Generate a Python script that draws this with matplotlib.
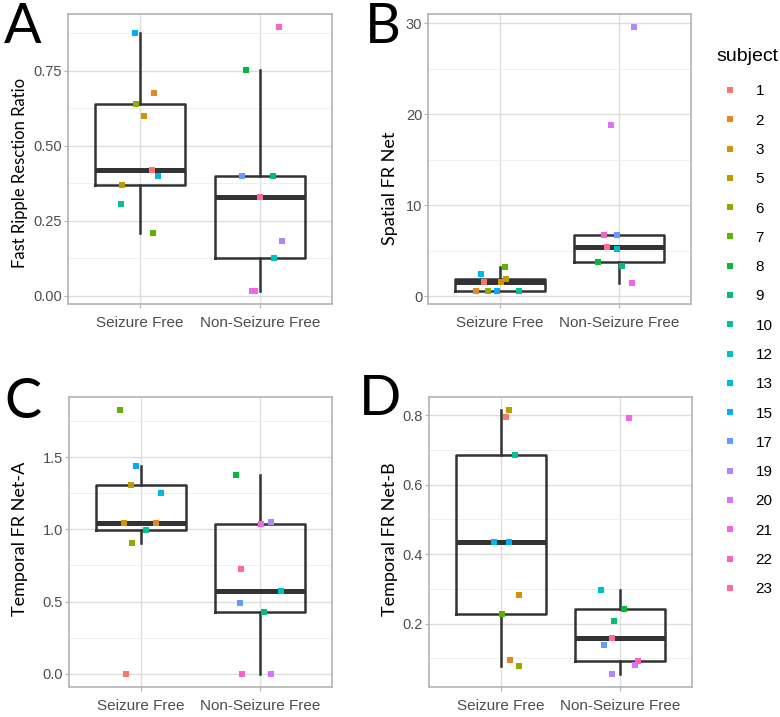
import numpy as np
import matplotlib
matplotlib.use('Agg')
import matplotlib.pyplot as plt
from matplotlib.lines import Line2D

plt.rcParams['font.family'] = ['Liberation Sans', 'DejaVu Sans']

# subjects and their outcome group
subjects = [1, 2, 3, 5, 6, 7, 8, 9, 10, 12, 13, 15, 17, 19, 20, 21, 22, 23]
outcome = ['SF', 'SF', 'SF', 'SF', 'SF', 'SF', 'NSF', 'NSF', 'SF',
           'NSF', 'SF', 'SF', 'NSF', 'NSF', 'NSF', 'NSF', 'NSF', 'NSF']
groups = ['SF', 'NSF']
group_labels = ['Seizure Free', 'Non-Seizure Free']

# values per subject (same order as subjects)
fr_resection_ratio = [0.421, 0.676, 0.598, 0.368, 0.640, 0.211, 0.751, 0.398, 0.306,
                      0.125, 0.398, 0.874, 0.398, 0.184, 0.017, 0.017, 0.895, 0.329]
spatial_fr_net = [1.57, 0.62, 1.57, 1.97, 0.62, 3.28, 3.76, 3.36, 0.62,
                  5.18, 2.50, 0.62, 6.74, 29.55, 18.84, 1.50, 6.74, 5.40]
temporal_fr_net_a = [0.0, 1.046, 1.046, 1.304, 0.908, 1.824, 1.375, 0.430, 0.996,
                     0.570, 1.249, 1.435, 0.487, 1.049, 0.0, 1.039, 0.0, 0.722]
temporal_fr_net_b = [0.795, 0.094, 0.281, 0.815, 0.077, 0.228, 0.242, 0.207, 0.685,
                     0.296, 0.435, 0.435, 0.138, 0.055, 0.080, 0.792, 0.091, 0.157]

# horizontal jitter (category units)
jitter_a = [0.10, 0.12, 0.03, -0.15, -0.03, 0.11, -0.12, 0.11, -0.16,
            0.12, 0.15, -0.04, -0.15, 0.18, -0.07, -0.04, 0.16, 0.0]
jitter_b = [-0.13, -0.20, 0.01, 0.05, -0.10, 0.04, -0.18, 0.02, 0.16,
            -0.02, -0.16, -0.02, -0.02, 0.12, -0.07, 0.11, -0.13, -0.10]
jitter_c = [-0.12, 0.13, -0.14, -0.08, -0.07, -0.17, -0.20, 0.03, 0.04,
            0.17, 0.17, -0.04, -0.17, 0.09, 0.09, 0.01, -0.15, -0.16]
jitter_d = [0.04, 0.08, 0.15, 0.07, 0.15, 0.01, 0.03, -0.05, 0.12,
            -0.16, -0.06, 0.07, -0.14, -0.07, 0.12, 0.07, 0.15, -0.07]

ticks_a = [0.0, 0.25, 0.5, 0.75]
ticklabels_a = ['0.00', '0.25', '0.50', '0.75']
ticks_b = [0, 10, 20, 30]
ticklabels_b = ['0', '10', '20', '30']
ticks_c = [0.0, 0.5, 1.0, 1.5]
ticklabels_c = ['0.0', '0.5', '1.0', '1.5']
ticks_d = [0.2, 0.4, 0.6, 0.8]
ticklabels_d = ['0.2', '0.4', '0.6', '0.8']


def hue_pal(n, c=100.0, l=65.0):
    # ggplot2 default discrete palette (hcl colours)
    hues = np.linspace(15, 375, n + 1)[:-1]
    xn, yn, zn = 95.047, 100.0, 108.883
    un = 4 * xn / (xn + 15 * yn + 3 * zn)
    vn = 9 * yn / (xn + 15 * yn + 3 * zn)
    out = []
    for h in hues:
        hr = np.radians(h)
        u0, v0 = c * np.cos(hr), c * np.sin(hr)
        y = yn * ((l + 16) / 116) ** 3
        u = u0 / (13 * l) + un
        v = v0 / (13 * l) + vn
        x = 9.0 * y * u / (4 * v)
        z = -x / 3 - 5 * y + 3 * y / v
        m = np.array([[3.240479, -1.537150, -0.498535],
                      [-0.969256, 1.875992, 0.041556],
                      [0.055648, -0.204043, 1.057311]])
        rgb = m @ (np.array([x, y, z]) / 100.0)
        rgb = np.where(rgb > 0.00304, 1.055 * np.abs(rgb) ** (1 / 2.4) - 0.055, 12.92 * rgb)
        out.append(tuple(np.clip(rgb, 0, 1)))
    return out


colors = hue_pal(len(subjects))
title_font = ['Lato', 'DejaVu Sans']

fig = plt.figure(figsize=(7.8, 7.17), dpi=100)

# letter, values, jitter, y title, title size, ticks, tick labels, axes box (px), title y, letter pos (px)
panels = [
    ('A', fr_resection_ratio, jitter_a, 'Fast Ripple Resction Ratio', 12, ticks_a, ticklabels_a,
     [68, 14, 264, 290], 0.452, (4, 2)),
    ('B', spatial_fr_net, jitter_b, 'Spatial FR Net', 13, ticks_b, ticklabels_b,
     [428, 14, 263, 290], 0.40, (365, 2)),
    ('C', temporal_fr_net_a, jitter_c, 'Temporal FR Net-A', 13, ticks_c, ticklabels_c,
     [69, 397, 263, 290], 0.51, (4, 377)),
    ('D', temporal_fr_net_b, jitter_d, 'Temporal FR Net-B', 13, ticks_d, ticklabels_d,
     [429, 397, 263, 290], 0.51, (359, 374)),
]

W, H = 780.0, 717.0
for letter, vals, jit, ylab, ysize, ticks, tlabels, rect, ly, lpos in panels:
    l, t, w, h = rect
    ax = fig.add_axes([l / W, 1 - (t + h) / H, w / W, h / H])
    data = [[v for v, g in zip(vals, outcome) if g == grp] for grp in groups]
    ax.boxplot(data, positions=[1, 2], widths=0.75, showcaps=False, showfliers=False,
               boxprops=dict(color='#333333', lw=1.8),
               whiskerprops=dict(color='#333333', lw=1.8),
               medianprops=dict(color='#333333', lw=3.6, solid_capstyle='butt'),
               zorder=2)
    for i, s in enumerate(subjects):
        xpos = groups.index(outcome[i]) + 1 + jit[i]
        ax.scatter(xpos, vals[i], marker='s', s=17, color=colors[i], lw=0, zorder=3)

    ax.set_xlim(0.4, 2.6)
    ax.margins(y=0.05)
    lim = ax.get_ylim()
    ax.set_xticks([1, 2])
    ax.set_xticklabels(group_labels)
    ax.set_yticks(ticks)
    ax.set_yticklabels(tlabels)
    step = ticks[1] - ticks[0]
    ax.set_yticks([tk + step / 2 for tk in [ticks[0] - step] + ticks], minor=True)
    ax.set_ylim(lim)

    ax.grid(True, which='major', color='#DEDEDE', lw=1.0)
    ax.grid(True, which='minor', axis='y', color='#EDEDED', lw=0.6)
    ax.set_axisbelow(True)
    for sp in ax.spines.values():
        sp.set_color('#B3B3B3')
        sp.set_linewidth(1.2)
    ax.tick_params(which='major', color='#B3B3B3', length=2.7, width=0.8,
                   labelcolor='#4D4D4D')
    ax.tick_params(axis='x', labelsize=11, pad=6)
    ax.tick_params(axis='y', labelsize=10.5, pad=1.5)
    ax.tick_params(which='minor', length=0)

    ax.set_ylabel(ylab, fontfamily=title_font, fontsize=ysize, color='black', va='center')
    ax.yaxis.set_label_coords((20 if letter in 'AC' else 390) / w - l / w, ly)

    fig.text(lpos[0] / W, 1 - lpos[1] / H, letter, fontfamily=title_font,
             fontsize=40, va='top', ha='left', color='black')

handles = [Line2D([], [], marker='s', ls='none', color=c, markersize=4.5, mew=0)
           for c in colors]
leg = fig.legend(handles, [str(s) for s in subjects], title='subject', loc='upper left',
                 bbox_to_anchor=(716 / W, 1 - 48 / H), frameon=False, fontsize=11,
                 title_fontsize=14, labelspacing=1.0, handlelength=1.8,
                 handletextpad=0.8, alignment='left', borderpad=0, borderaxespad=0)
leg._legend_box.sep = 14

fig.savefig('out.png', dpi=100)
